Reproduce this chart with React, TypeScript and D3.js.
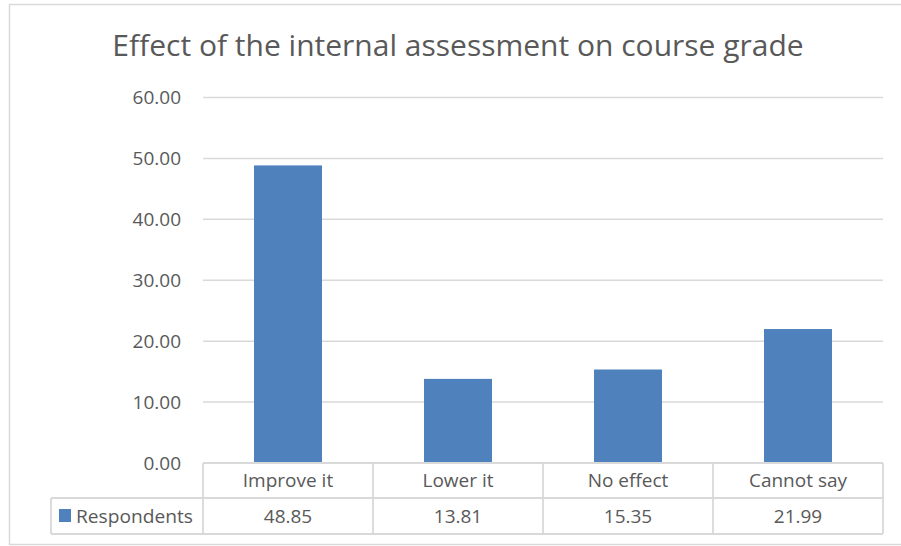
import React from 'react';
import * as d3 from 'd3';

const title = 'Effect of the internal assessment on course grade';
const categories = ['Improve it', 'Lower it', 'No effect', 'Cannot say'];
const respondents = [48.85, 13.81, 15.35, 21.99];
const yTicks = [0, 10, 20, 30, 40, 50, 60];
const seriesName = 'Respondents';

const W = 901;
const H = 546;
const font = '"Open Sans", "Liberation Sans", sans-serif';
const textColor = '#595959';
const gridColor = '#d9d9d9';
const barColor = '#4f81bd';
const labelSize = 19;

export default function App() {
  const left = 203, right = 883;
  const top = 97.5, bottom = 463;
  const rowMid = 498, rowEnd = 534;
  const legendLeft = 51;

  const x = d3.scaleBand<string>()
    .domain(categories)
    .range([left, right])
    .paddingInner(0.6)
    .paddingOuter(0.3);

  const y = d3.scaleLinear().domain([0, 60]).range([bottom, top]);

  // column boundaries of the data table
  const step = x.step();
  const cols = categories.map((c, i) => left + i * step);

  return (
    <div style={{ position: 'absolute', left: 0, top: 0 }}>
      <svg width={W} height={H} style={{ display: 'block', background: '#fff' }}>
        {/* chart area border */}
        <rect x={9.5} y={4.5} width={W + 20} height={540} fill="#fff" stroke={gridColor} strokeWidth={1.5} />

        <text x={458} y={56} textAnchor="middle" fontFamily={font} fontSize={30} fill={textColor}>
          {title}
        </text>

        {/* gridlines + tick labels */}
        {yTicks.map(t => (
          <g key={t}>
            {t > 0 && (
              <line x1={left} x2={right} y1={y(t)} y2={y(t)} stroke={gridColor} strokeWidth={1.5} />
            )}
            <text x={181} y={y(t)} dy="0.36em" textAnchor="end" fontFamily={font} fontSize={labelSize} fill={textColor}>
              {t.toFixed(2)}
            </text>
          </g>
        ))}

        {/* bars */}
        {categories.map((c, i) => (
          <rect
            key={c}
            x={x(c)}
            y={y(respondents[i])}
            width={x.bandwidth()}
            height={y(0) - y(respondents[i])}
            fill={barColor}
          />
        ))}

        {/* data table */}
        <g stroke={gridColor} strokeWidth={1.8} fill="none">
          <line x1={left} x2={right} y1={bottom} y2={bottom} />
          <line x1={legendLeft} x2={right} y1={rowMid} y2={rowMid} />
          <line x1={legendLeft} x2={right} y1={rowEnd} y2={rowEnd} />
          <line x1={legendLeft} x2={legendLeft} y1={rowMid} y2={rowEnd} />
          {cols.map((cx, i) => (
            <line key={i} x1={cx} x2={cx} y1={bottom} y2={rowEnd} />
          ))}
          <line x1={right} x2={right} y1={bottom} y2={rowEnd} />
        </g>

        {categories.map((c, i) => (
          <g key={c} fontFamily={font} fontSize={labelSize} fill={textColor} textAnchor="middle">
            <text x={cols[i] + step / 2} y={(bottom + rowMid) / 2} dy="0.36em">{c}</text>
            <text x={cols[i] + step / 2} y={(rowMid + rowEnd) / 2} dy="0.36em">{respondents[i].toFixed(2)}</text>
          </g>
        ))}

        {/* legend key */}
        <rect x={59} y={509} width={12} height={13} fill={barColor} />
        <text x={76} y={(rowMid + rowEnd) / 2} dy="0.36em" fontFamily={font} fontSize={labelSize} fill={textColor}
          textLength={117} lengthAdjust="spacingAndGlyphs">
          {seriesName}
        </text>
      </svg>
    </div>
  );
}
